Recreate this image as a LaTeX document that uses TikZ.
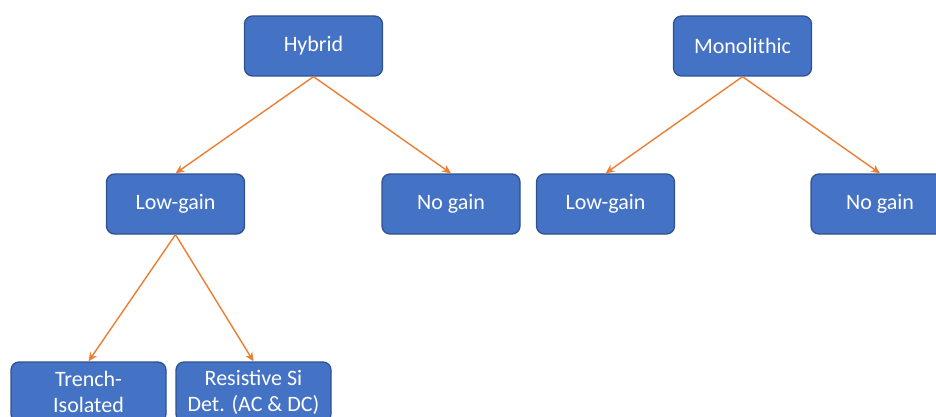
\documentclass[tikz,border=0pt]{standalone}
\usepackage{fontspec}
\setmainfont{Carlito}
\usetikzlibrary{arrows.meta}
\definecolor{boxfill}{HTML}{4472C4}
\definecolor{boxline}{HTML}{2F528F}
\definecolor{arr}{HTML}{ED7D31}
\begin{document}
\begin{tikzpicture}[x=1pt,y=-1pt,
  box/.style={draw=boxline, line width=1.3pt, fill=boxfill, rounded corners=8pt,
    text=white, font=\fontsize{22}{26}\selectfont, align=center,
    minimum width=138pt, minimum height=60pt, inner sep=0pt},
  wbox/.style={box, minimum width=155pt},
  conn/.style={draw=arr, line width=1.4pt, -{Stealth[length=9pt,width=8pt]}}]
\useasboundingbox (0,0) rectangle (936,417);
\clip (0,0) rectangle (936,417);
\node[box] (hyb) at (313.5,46) {Hybrid};
\node[box] (mono) at (742.5,46) {Monolithic};
\node[box] (lg1) at (175.5,204) {Low-gain};
\node[box] (ng1) at (451,204) {No gain};
\node[box] (lg2) at (605.5,204) {Low-gain};
\node[box] (ng2) at (880,204) {No gain};
\node[wbox] (tr) at (88.5,392) {Trench-\\Isolated};
\node[wbox] (rs) at (253.5,392) {Resistive Si\\Det. (AC \& DC)};
\draw[conn] (hyb.south) -- (lg1.north);
\draw[conn] (hyb.south) -- (ng1.north);
\draw[conn] (mono.south) -- (lg2.north);
\draw[conn] (mono.south) -- (ng2.north);
\draw[conn] (lg1.south) -- (tr.north);
\draw[conn] (lg1.south) -- (rs.north);
\end{tikzpicture}
\end{document}
